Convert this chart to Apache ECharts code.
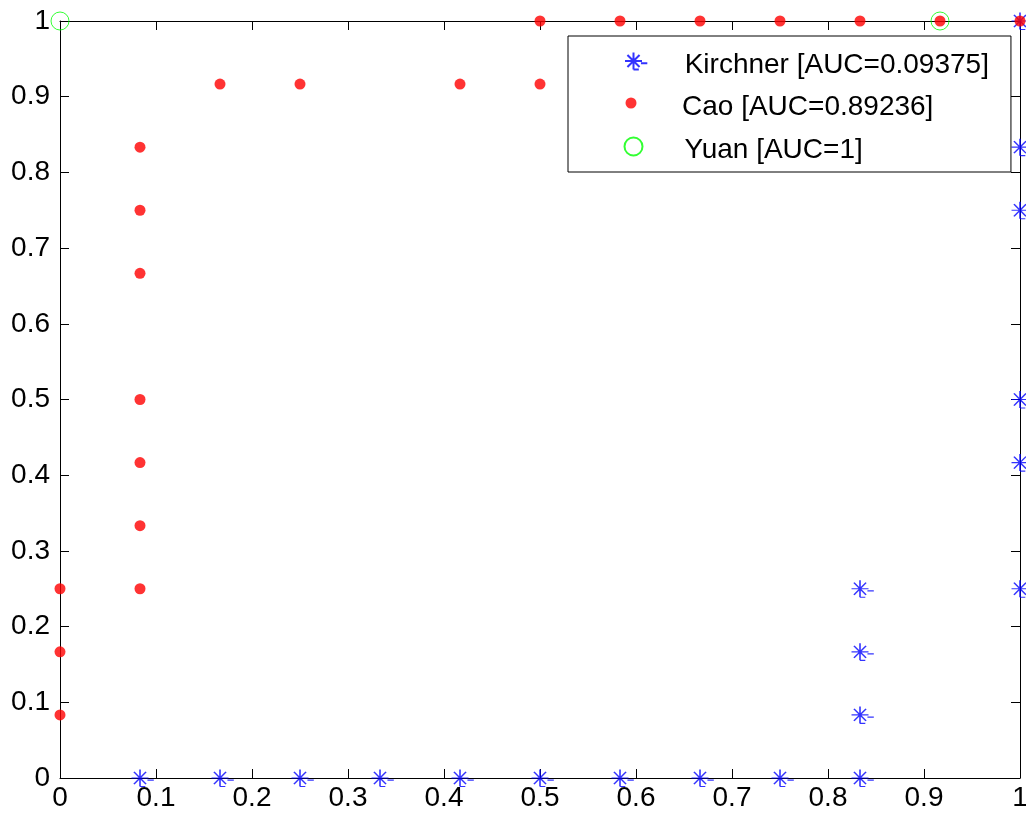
<!DOCTYPE html>
<html>
<head>
<meta charset="utf-8">
<script src="https://cdn.jsdelivr.net/npm/echarts@6/dist/echarts.min.js"></script>
<style>
  html, body { margin: 0; padding: 0; background: #fff; }
  #chart { width: 1026px; height: 819px; }
</style>
</head>
<body>
<div id="chart"></div>
<script>
// ROC points (x = false positive rate, y = true positive rate)
const kirchnerX = [1/12, 2/12, 3/12, 4/12, 5/12, 6/12, 7/12, 8/12, 9/12, 10/12,
    10/12, 10/12, 10/12, 1, 1, 1, 1, 1, 1];
const kirchnerY = [0, 0, 0, 0, 0, 0, 0, 0, 0, 0,
    1/12, 2/12, 3/12, 3/12, 5/12, 6/12, 9/12, 10/12, 1];

const caoX = [0, 0, 0, 1/12, 1/12, 1/12, 1/12, 1/12, 1/12, 1/12,
    2/12, 3/12, 5/12, 6/12, 6/12, 7/12, 8/12, 9/12, 10/12, 11/12, 1];
const caoY = [1/12, 2/12, 3/12, 3/12, 4/12, 5/12, 6/12, 8/12, 9/12, 10/12,
    11/12, 11/12, 11/12, 11/12, 1, 1, 1, 1, 1, 1, 1];

const yuanX = [0, 11/12];
const yuanY = [1, 1];

const names = ["Kirchner [AUC=0.09375]", "Cao [AUC=0.89236]", "Yuan [AUC=1]"];

const FONT = "'Liberation Sans', Arial, sans-serif";
// asterisk plus the two little dashes matlab leaves next to it
const starPath = "path://M0,8L16,8M8,0L8,16M2.3,2.3L13.7,13.7M2.3,13.7L13.7,2.3" +
    "M15,10L21,10M8,16L13,16";

const zip = (xs, ys) => xs.map((x, i) => [x, ys[i]]);

const chart = echarts.init(document.getElementById("chart"), null, { renderer: "canvas" });

const axisCommon = {
    type: "value",
    min: 0,
    max: 1,
    interval: 0.1,
    axisLine: { show: true, onZero: false, lineStyle: { color: "#000", width: 1 } },
    axisTick: { show: true, inside: true, length: 9, lineStyle: { color: "#000", width: 1 } },
    splitLine: { show: false }
};

// text sits a few px lower than the marker in the original legend
const legendText = {
    fontFamily: FONT, fontSize: 28, color: "#000",
    rich: { t: { fontFamily: FONT, fontSize: 28, color: "#000", padding: [8, 0, 0, 0] } }
};
const legendFmt = "{t|{name}}";

chart.setOption({
    animation: false,
    backgroundColor: "#fff",
    grid: { left: 60, right: 6, top: 21, bottom: 41, outerBoundsMode: "none", containLabel: false },
    xAxis: [
        Object.assign({}, axisCommon, {
            position: "bottom",
            axisLabel: { fontFamily: FONT, fontSize: 28, color: "#000", margin: 6 }
        }),
        Object.assign({}, axisCommon, { position: "top", axisLabel: { show: false } })
    ],
    yAxis: [
        Object.assign({}, axisCommon, {
            position: "left",
            axisLabel: { fontFamily: FONT, fontSize: 28, color: "#000", margin: 10 }
        }),
        Object.assign({}, axisCommon, { position: "right", axisLabel: { show: false } })
    ],
    legend: [
        {
            data: [names[0]],
            orient: "vertical",
            left: 568,
            top: 36,
            itemWidth: 87,
            itemHeight: 17,
            padding: [14, 22, 93, 54.5],
            backgroundColor: "#fff",
            borderColor: "#000",
            borderWidth: 1,
            borderRadius: 0,
            formatter: legendFmt,
            textStyle: legendText,
            z: 4
        },
        {
            data: [names[1]],
            left: 568,
            top: 93,
            itemWidth: 92,
            itemHeight: 11,
            padding: [0, 0, 0, 57.5],
            formatter: legendFmt,
            textStyle: legendText,
            z: 5
        },
        {
            data: [names[2]],
            left: 568,
            top: 135,
            itemWidth: 92,
            itemHeight: 18,
            padding: [0, 0, 0, 54],
            formatter: legendFmt,
            textStyle: legendText,
            z: 5
        }
    ],
    series: [
        {
            name: names[0],
            type: "scatter",
            clip: false,
            symbol: starPath,
            symbolSize: [22.3, 17],
            symbolOffset: [2.66, 0],
            itemStyle: { color: "none", borderColor: "#0000ff", borderWidth: 1.4 },
            data: zip(kirchnerX, kirchnerY)
        },
        {
            name: names[1],
            type: "scatter",
            clip: false,
            symbol: "circle",
            symbolSize: 11,
            itemStyle: { color: "#ff0000" },
            data: zip(caoX, caoY)
        },
        {
            name: names[2],
            type: "scatter",
            clip: false,
            symbol: "circle",
            symbolSize: 18,
            itemStyle: { color: "none", borderColor: "#00ff00", borderWidth: 1 },
            data: zip(yuanX, yuanY)
        }
    ]
});
</script>
</body>
</html>
